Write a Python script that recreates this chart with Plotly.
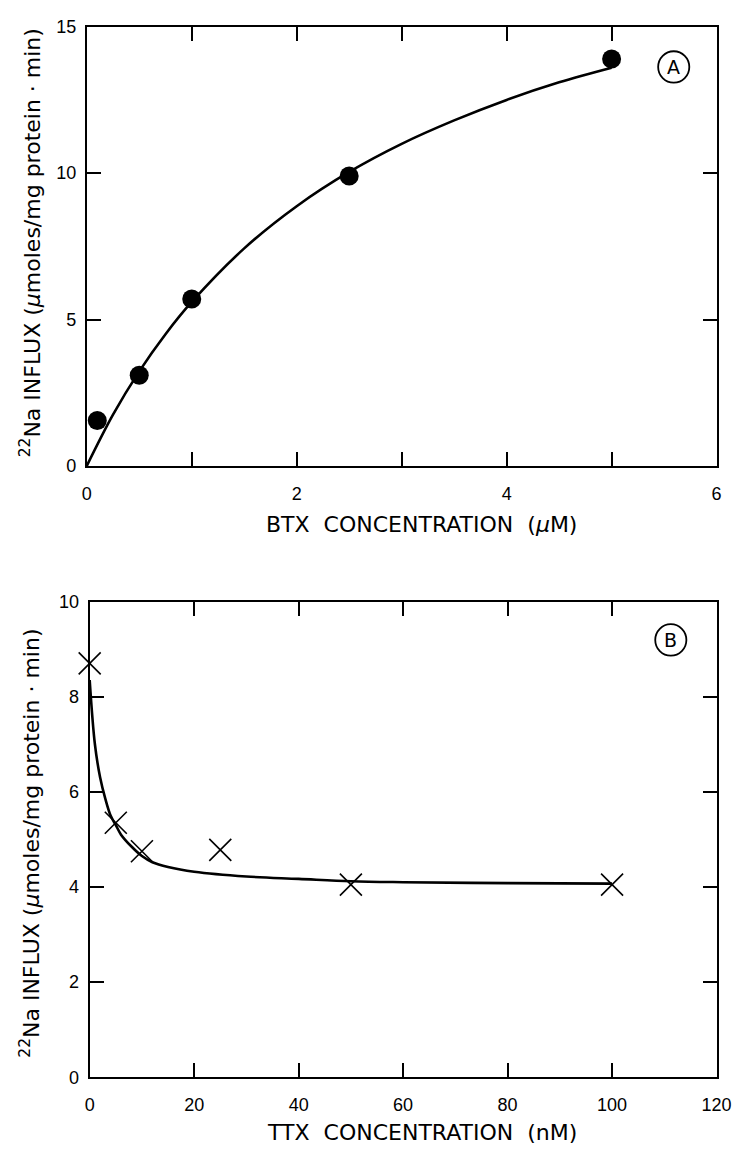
import plotly.graph_objects as go

# Panel A data (BTX)
btx_conc = [0.1, 0.5, 1.0, 2.5, 5.0]
btx_influx = [1.55, 3.1, 5.7, 9.9, 13.9]
btx_fit_x = [0, 0.25, 0.5, 0.75, 1.0, 1.5, 2.0, 2.5, 3.0, 3.5, 4.0, 4.5, 5.0]
btx_fit_y = [0, 1.75, 3.23, 4.5, 5.6, 7.43, 8.87, 10.04, 11.0, 11.8, 12.5, 13.1, 13.6]

# Panel B data (TTX)
ttx_conc = [0, 5, 10, 25, 50, 100]
ttx_influx = [8.7, 5.35, 4.75, 4.78, 4.05, 4.05]
ttx_fit_x = [0, 1, 2, 3, 4, 5, 6, 8, 10, 12, 15, 20, 30, 40, 50, 60, 80, 100]
ttx_fit_y = [8.35, 7.0, 6.3, 5.85, 5.5, 5.3, 5.1, 4.85, 4.65, 4.52, 4.42, 4.32, 4.22, 4.17, 4.12, 4.1, 4.08, 4.07]

a_xticks = [0, 2, 4, 6]
a_yticks = [0, 5, 10, 15]
b_xticks = [0, 20, 40, 60, 80, 100, 120]
b_yticks = [0, 2, 4, 6, 8, 10]

W, H = 752, 1156
TICKFONT = "Liberation Sans"
TITLEFONT = "DejaVu Sans"

fig = go.Figure()
fig.add_trace(go.Scatter(x=btx_fit_x, y=btx_fit_y, mode="lines", line=dict(color="black", width=2.6, shape="spline"),
                         xaxis="x", yaxis="y", showlegend=False))
fig.add_trace(go.Scatter(x=btx_conc, y=btx_influx, mode="markers", marker=dict(color="black", size=19, symbol="circle"),
                         xaxis="x", yaxis="y", showlegend=False, cliponaxis=False))
fig.add_trace(go.Scatter(x=ttx_fit_x, y=ttx_fit_y, mode="lines", line=dict(color="black", width=2.6, shape="spline"),
                         xaxis="x2", yaxis="y2", showlegend=False))
fig.add_trace(go.Scatter(x=ttx_conc, y=ttx_influx, mode="markers",
                         marker=dict(color="black", size=22, symbol="x-thin-open", line=dict(color="black", width=1.6)),
                         xaxis="x2", yaxis="y2", showlegend=False, cliponaxis=False))

def px_x(p):
    return p / W

def px_y(p):
    return 1 - p / H

axis_common = dict(showgrid=False, zeroline=False, showline=True, linecolor="black", linewidth=2,
                   mirror="allticks", ticks="inside", ticklen=14, tickwidth=1.5, tickcolor="black",
                   tickfont=dict(family=TICKFONT, size=18, color="black"))

fig.update_layout(
    width=W, height=H, margin=dict(l=0, r=0, t=0, b=0),
    paper_bgcolor="white", plot_bgcolor="white",
    xaxis=dict(domain=[px_x(84), px_x(731)], range=[0, 6], tickvals=a_xticks,
               minor=dict(ticks="inside", dtick=1, ticklen=14, tickwidth=1.5, tickcolor="black", showgrid=False),
               anchor="y", ticklabelstandoff=10, **axis_common),
    yaxis=dict(domain=[px_y(464), px_y(17)], range=[0, 15], tickvals=a_yticks,
               anchor="x", ticklabelstandoff=5, **axis_common),
    xaxis2=dict(domain=[px_x(87), px_x(731)], range=[0, 120], tickvals=b_xticks,
                anchor="y2", ticklabelstandoff=10, **axis_common),
    yaxis2=dict(domain=[px_y(1086), px_y(602)], range=[0, 10], tickvals=b_yticks,
                anchor="x2", ticklabelstandoff=5, **axis_common),
)

ytitle = "<sup>22</sup>Na INFLUX (<i>μ</i>moles/mg protein · min)"
for cy in (237, 848):
    fig.add_annotation(text=ytitle, xref="paper", yref="paper", x=px_x(26), y=px_y(cy), textangle=-90,
                       xanchor="center", yanchor="middle",
                       showarrow=False, font=dict(family=TITLEFONT, size=22, color="black"))
fig.add_annotation(text="BTX  CONCENTRATION  (<i>μ</i>M)", xref="paper", yref="paper", x=px_x(428), y=px_y(524),
                   xanchor="center", yanchor="middle",
                   showarrow=False, font=dict(family=TITLEFONT, size=22, color="black"))
fig.add_annotation(text="TTX  CONCENTRATION  (nM)", xref="paper", yref="paper", x=px_x(428), y=px_y(1142),
                   xanchor="center", yanchor="middle",
                   showarrow=False, font=dict(family=TITLEFONT, size=22, color="black"))

# Circled panel letters
for letter, cx, cy in [("A", 687, 58), ("B", 684, 641)]:
    r = 16
    fig.add_shape(type="circle", xref="paper", yref="paper",
                  x0=px_x(cx - r), x1=px_x(cx + r), y0=px_y(cy + r), y1=px_y(cy - r),
                  line=dict(color="black", width=1.8))
    fig.add_annotation(text=letter, xref="paper", yref="paper", x=px_x(cx), y=px_y(cy),
                       xanchor="center", yanchor="middle",
                       showarrow=False, font=dict(family=TITLEFONT, size=19, color="black"))

fig.write_html("out.html")
